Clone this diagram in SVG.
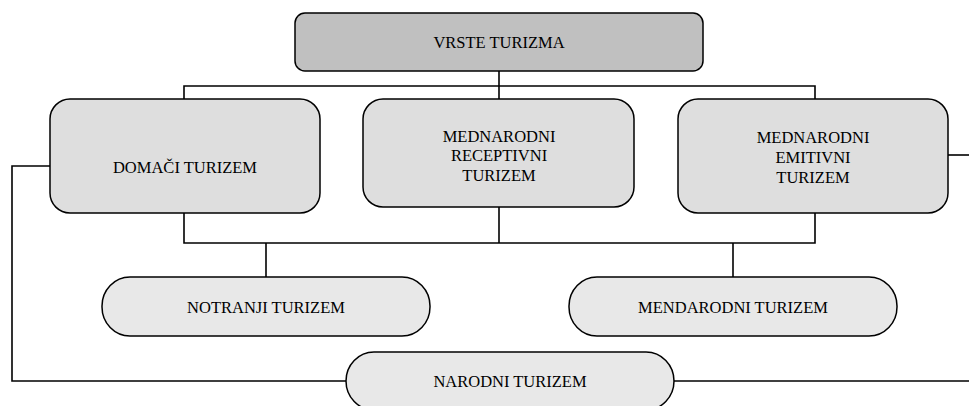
<svg xmlns="http://www.w3.org/2000/svg" width="969" height="406" viewBox="0 0 969 406">
<style>
.n{stroke:#000;stroke-width:1.5}
.top{fill:#c0c0c0}
.mid{fill:#dedede}
.pill{fill:#e8e8e8}
.c{fill:none;stroke:#000;stroke-width:1.6}
text{font-family:"Liberation Serif","Times New Roman",serif;font-size:16.5px;fill:#000;text-anchor:middle}
</style>
<rect width="969" height="406" fill="#fff"/>
<g id="connectors">
<path class="c" d="M499 71V99"/>
<path class="c" d="M184 99V86H815V99"/>
<path class="c" d="M184 213V243H815V213"/>
<path class="c" d="M499 207V243"/>
<path class="c" d="M266 243V277"/>
<path class="c" d="M733 243V277"/>
<path class="c" d="M50 166H12V381H346"/>
<path class="c" d="M948 155H969"/>
<path class="c" d="M674 381H969"/>
</g>
<g id="vrste">
<rect class="n top" x="295" y="13" width="408" height="58" rx="10"/>
<text x="499" y="48">VRSTE TURIZMA</text>
</g>
<g id="domaci">
<rect class="n mid" x="50" y="99" width="270" height="114" rx="20"/>
<text x="185" y="173">DOMAČI TURIZEM</text>
</g>
<g id="receptivni">
<rect class="n mid" x="363" y="99" width="271" height="108" rx="20"/>
<text x="499" y="142">MEDNARODNI</text>
<text x="499" y="161">RECEPTIVNI</text>
<text x="499" y="181">TURIZEM</text>
</g>
<g id="emitivni">
<rect class="n mid" x="678" y="99" width="270" height="114" rx="20"/>
<text x="813" y="143">MEDNARODNI</text>
<text x="813" y="163">EMITIVNI</text>
<text x="813" y="183">TURIZEM</text>
</g>
<g id="notranji">
<rect class="n pill" x="102" y="277" width="328" height="59" rx="28" ry="29"/>
<text x="266" y="313">NOTRANJI TURIZEM</text>
</g>
<g id="mendarodni">
<rect class="n pill" x="569" y="277" width="328" height="59" rx="28" ry="29"/>
<text x="733" y="313">MENDARODNI TURIZEM</text>
</g>
<g id="narodni">
<rect class="n pill" x="346" y="352" width="328" height="58" rx="28" ry="29"/>
<text x="510" y="387">NARODNI TURIZEM</text>
</g>
</svg>
